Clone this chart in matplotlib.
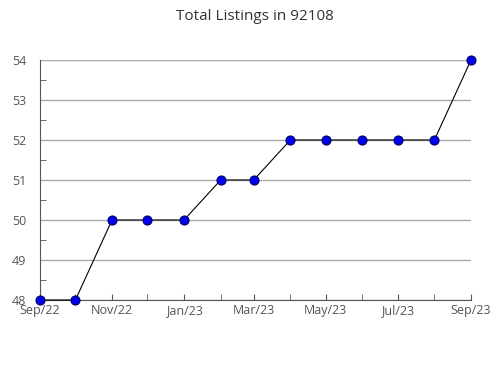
import matplotlib
matplotlib.use("Agg")
import matplotlib.pyplot as plt
import matplotlib.dates as mdates
from datetime import date

plt.rcParams['font.family'] = ['Open Sans', 'DejaVu Sans']

months = [date(2022, 9, 1), date(2022, 10, 1), date(2022, 11, 1), date(2022, 12, 1),
          date(2023, 1, 1), date(2023, 2, 1), date(2023, 3, 1), date(2023, 4, 1),
          date(2023, 5, 1), date(2023, 6, 1), date(2023, 7, 1), date(2023, 8, 1),
          date(2023, 9, 1)]
listings = [48, 48, 50, 50, 50, 51, 51, 52, 52, 52, 52, 52, 54]

fig = plt.figure(figsize=(4.9, 3.8), dpi=100)
ax = fig.add_axes([40/490, 1-300/380, 431/490, 240/380])

ax.plot(months, listings, color='black', linewidth=0.8, marker='o', markersize=6.5,
        markerfacecolor='#0000ee', markeredgecolor='#000066', markeredgewidth=0.8,
        zorder=3, clip_on=False)

ax.set_xlim(months[0], months[-1])
ax.set_ylim(48, 54)
ax.set_yticks(range(48, 55))
ax.set_yticks([48.5 + i for i in range(6)], minor=True)
ax.xaxis.set_major_locator(mdates.MonthLocator(bymonth=[1, 3, 5, 7, 9, 11]))
ax.xaxis.set_minor_locator(mdates.MonthLocator())
ax.xaxis.set_major_formatter(mdates.DateFormatter('%b/%y'))

ax.grid(axis='y', color='#aaaaaa', linewidth=1)
for s in ['top', 'right']:
    ax.spines[s].set_visible(False)
for s in ['left', 'bottom']:
    ax.spines[s].set_color('#555555')
ax.tick_params(axis='both', which='both', direction='in', color='#555555',
               labelcolor='#555555', labelsize=9, length=4, pad=3)
ax.tick_params(axis='y', which='major', length=0, pad=10)

fig.suptitle('Total Listings in 92108', x=0.52, y=0.975, fontsize=11, color='#333333')

fig.savefig('out.png', dpi=100)
